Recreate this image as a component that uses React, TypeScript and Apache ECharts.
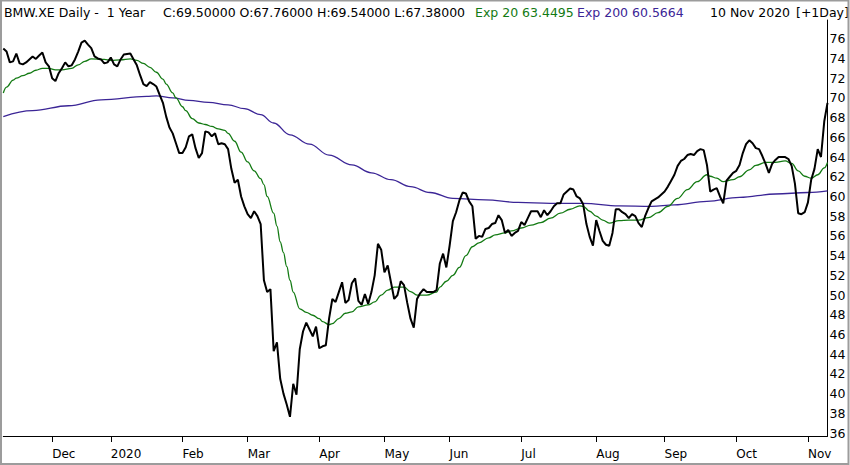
import React, { useEffect, useRef } from "react";
import * as echarts from "echarts";

// ---- Calendar (Xetra trading days) ----
const START_DATE = "2019-11-11";
const END_DATE = "2020-11-10";
const HOLIDAYS = [
  "2019-12-24", "2019-12-25", "2019-12-26", "2019-12-31",
  "2020-01-01", "2020-04-10", "2020-04-13", "2020-05-01",
];
const MONTH_NAMES = ["Jan", "Feb", "Mar", "Apr", "May", "Jun", "Jul", "Aug", "Sep", "Oct", "Nov", "Dec"];

// ---- Close prices, month by month ----
const closeNov2019 = [75.0, 74.7, 73.6, 73.7, 74.5, 73.5, 73.4, 73.6, 73.9, 74.2, 73.95, 74.3, 74.6, 73.6, 73.2];
const closeDec2019 = [72.0, 71.7, 72.5, 73.0, 73.6, 73.2, 73.3, 73.9, 74.7, 75.6, 75.8, 75.4, 75.05, 74.2, 74.0, 73.9, 73.5, 73.6];
const closeJan2020 = [74.1, 73.4, 73.2, 73.9, 74.4, 74.45, 74.5, 73.9, 73.3, 72.3, 71.4, 71.2, 71.6, 71.4, 71.15, 70.3, 69.5, 68.1, 67.0, 66.4, 65.4, 64.4];
const closeFeb2020 = [64.4, 65.0, 66.1, 66.3, 64.9, 63.9, 64.4, 66.6, 66.5, 66.1, 66.4, 65.3, 65.4, 65.3, 64.8, 62.8, 61.4, 61.7, 60.0, 59.0];
const closeMar2020 = [58.2, 57.8, 58.5, 58.0, 57.2, 51.5, 50.3, 50.6, 44.3, 45.2, 41.5, 40.0, 38.9, 37.65, 41.0, 39.9, 44.5, 46.3, 47.2, 46.5, 45.8, 46.8];
const closeApr2020 = [44.6, 44.8, 44.9, 47.6, 49.6, 49.3, 50.3, 51.3, 49.2, 49.5, 51.2, 51.7, 49.4, 49.0, 50.1, 49.1, 50.3, 52.0, 55.2, 54.6];
const closeMay2020 = [52.3, 53.0, 51.3, 49.6, 50.0, 51.4, 51.0, 49.2, 47.6, 46.7, 49.6, 50.2, 50.6, 50.3, 50.3, 50.3, 50.5, 53.2, 54.2, 52.8];
const closeJun2020 = [55.0, 57.5, 58.4, 59.6, 60.4, 60.3, 59.5, 59.0, 55.7, 56.0, 55.9, 56.7, 56.8, 57.2, 57.3, 58.1, 57.6, 56.3, 56.6, 56.0, 56.3, 56.5];
const closeJul2020 = [57.4, 57.1, 57.8, 58.5, 58.5, 58.5, 57.9, 58.6, 58.1, 58.5, 59.0, 59.3, 59.3, 60.2, 60.5, 60.8, 60.7, 60.0, 59.8, 59.2, 57.2, 55.9, 55.0];
const closeAug2020 = [57.6, 56.5, 55.5, 55.1, 55.0, 56.3, 58.7, 58.7, 58.4, 58.2, 57.8, 58.2, 58.0, 57.3, 56.9, 58.0, 58.8, 59.5, 59.7, 59.9, 60.2];
const closeSep2020 = [60.5, 61.0, 61.6, 62.2, 63.1, 63.6, 63.8, 64.2, 64.3, 64.2, 64.6, 64.8, 64.7, 63.2, 60.5, 60.7, 60.85, 60.0, 59.3, 61.6, 62.0, 62.4];
const closeOct2020 = [62.6, 63.2, 64.4, 65.3, 65.7, 65.4, 64.9, 64.8, 64.1, 63.3, 62.4, 63.3, 63.7, 64.0, 64.0, 64.0, 63.8, 63.1, 61.3, 58.3, 58.2, 58.4];
const closeNov2020 = [59.4, 61.7, 62.8, 64.8, 64.0, 67.6, 69.5];

// ---- Exp 20 and Exp 200 as [trading-day index, value] ----
const exp20Points: [number, number][] = [
  [0, 70.5], [1, 71.1], [3, 71.8], [4, 72.0], [6, 72.25], [8, 72.5], [10, 72.8], [12, 73.0], [14, 73.0],
  [16, 72.85], [18, 72.85], [21, 73.0], [23, 73.35], [25, 73.7], [27, 73.95], [31, 73.9], [33, 73.8],
  [36, 73.85], [39, 73.95], [41, 73.8], [43, 73.5], [45, 73.1], [47, 72.6], [49, 71.9], [50, 71.4],
  [52, 70.5], [53, 70.0], [55, 69.1], [56, 68.7], [58, 67.9], [60, 67.45], [62, 67.3], [64, 67.1],
  [66, 66.85], [68, 66.7], [69, 66.4], [71, 65.6], [73, 64.5], [75, 63.5], [77, 62.6], [79, 61.8],
  [80, 61.2], [81, 60.0], [83, 58.3], [84, 57.0], [85, 55.4], [86, 54.3], [87, 52.9], [88, 51.5],
  [89, 50.3], [91, 48.6], [93, 48.25], [95, 47.95], [97, 47.6], [98, 47.3], [100, 47.0], [101, 47.1],
  [103, 47.6], [105, 48.15], [107, 48.3], [109, 48.8], [112, 49.0], [114, 49.3], [116, 50.0],
  [118, 50.5], [120, 50.8], [123, 50.8], [125, 50.35], [127, 50.0], [130, 50.0], [133, 50.3],
  [134, 50.8], [136, 51.4], [138, 52.0], [140, 52.8], [142, 54.0], [144, 54.9], [146, 55.3],
  [149, 55.8], [151, 56.1], [154, 56.3], [156, 56.5], [159, 56.8], [162, 57.1], [165, 57.35],
  [168, 57.8], [171, 58.3], [174, 58.7], [177, 59.05], [178, 59.0], [180, 58.5], [182, 58.0],
  [184, 57.6], [186, 57.3], [189, 57.55], [192, 57.6], [195, 57.6], [198, 57.85], [201, 58.35],
  [204, 59.0], [207, 59.8], [210, 60.7], [213, 61.5], [216, 62.2], [217, 62.05], [219, 61.85],
  [221, 61.5], [224, 61.7], [226, 62.0], [229, 62.7], [231, 63.15], [234, 63.45], [237, 63.45],
  [240, 63.6], [242, 63.35], [244, 62.6], [246, 62.05], [248, 61.85], [250, 62.2], [252, 62.9],
  [253, 63.45],
];
const exp200Points: [number, number][] = [
  [0, 68.1], [9, 68.7], [20, 69.2], [30, 69.8], [44, 70.15], [47, 70.2], [52, 70.0], [57, 69.75],
  [63, 69.55], [69, 69.3], [74, 68.9], [79, 68.3], [83, 67.45], [88, 66.25], [94, 65.3], [100, 64.2],
  [107, 63.2], [113, 62.4], [119, 61.7], [125, 61.0], [131, 60.4], [138, 59.8], [148, 59.65],
  [158, 59.4], [168, 59.3], [178, 59.3], [189, 59.05], [199, 59.0], [206, 59.15], [216, 59.5],
  [226, 59.9], [237, 60.25], [247, 60.4], [253, 60.57],
];

// ---- Axis ticks ----
const yTickValues = [36, 38, 40, 42, 44, 46, 48, 50, 52, 54, 56, 58, 60, 62, 64, 66, 68, 70, 72, 74, 76];

// ---- Header texts ----
const headerTitle = "BMW.XE Daily -  1 Year";
const headerOHLC = "C:69.50000 O:67.76000 H:69.54000 L:67.38000";
const headerExp20 = "Exp 20 63.4495";
const headerExp200 = "Exp 200 60.5664";
const headerDate = "10 Nov 2020";
const headerShift = "[+1Day]";

function tradingDays(start: string, end: string, holidays: string[]): string[] {
  const out: string[] = [];
  const d = new Date(start + "T00:00:00Z");
  const e = new Date(end + "T00:00:00Z");
  while (d.getTime() <= e.getTime()) {
    const wd = d.getUTCDay();
    const s = d.toISOString().slice(0, 10);
    if (wd !== 0 && wd !== 6 && holidays.indexOf(s) < 0) out.push(s);
    d.setUTCDate(d.getUTCDate() + 1);
  }
  return out;
}

const FONT = "DejaVu Sans";
const GREEN = "#137a13";
const PURPLE = "#3b2596";

export default function App() {
  const ref = useRef<HTMLDivElement>(null);

  useEffect(() => {
    document.body.style.margin = "0";
    if (!ref.current) return;
    const chart = echarts.init(ref.current, null, { renderer: "svg" });

    const dates = tradingDays(START_DATE, END_DATE, HOLIDAYS);
    const close = [
      ...closeNov2019, ...closeDec2019, ...closeJan2020, ...closeFeb2020, ...closeMar2020,
      ...closeApr2020, ...closeMay2020, ...closeJun2020, ...closeJul2020, ...closeAug2020,
      ...closeSep2020, ...closeOct2020, ...closeNov2020,
    ];
    const monthStart = new Set<number>();
    for (let i = 1; i < dates.length; i++) {
      if (dates[i].slice(5, 7) !== dates[i - 1].slice(5, 7)) monthStart.add(i);
    }
    const monthLabel = (v: string) => {
      const m = parseInt(v.slice(5, 7), 10);
      return m === 1 ? v.slice(0, 4) : MONTH_NAMES[m - 1];
    };

    const headerY = 12;
    const txt = (x: number, text: string, fill: string) => ({
      type: "text",
      x,
      y: headerY,
      style: { text, fill, fontSize: 12.5, fontFamily: FONT, verticalAlign: "middle" },
      z: 10,
    });

    chart.setOption({
      animation: false,
      backgroundColor: "#ffffff",
      grid: { left: 3.3, right: 22.5, top: 20, bottom: 29 },
      xAxis: {
        type: "category",
        data: dates,
        boundaryGap: false,
        axisLine: { show: true, lineStyle: { color: "#000", width: 1 } },
        axisTick: {
          show: true,
          interval: (idx: number) => monthStart.has(idx),
          length: 6,
          lineStyle: { color: "#000", width: 1 },
        },
        axisLabel: {
          interval: (idx: number) => monthStart.has(idx),
          formatter: (v: string) => monthLabel(v),
          align: "left",
          margin: 12,
          color: "#000",
          fontSize: 12,
          fontFamily: FONT,
        },
        splitLine: { show: false },
      },
      yAxis: {
        type: "value",
        position: "right",
        min: 35.7,
        max: 77.9,
        axisLine: { show: true, lineStyle: { color: "#000", width: 1 } },
        axisTick: { show: false },
        splitLine: { show: false },
        axisLabel: {
          customValues: yTickValues,
          margin: 2,
          color: "#000",
          fontSize: 12.5,
          fontFamily: FONT,
        },
      },
      series: [
        {
          name: "Exp 200",
          type: "line",
          data: exp200Points,
          symbol: "none",
          smooth: 0.4,
          smoothMonotone: "x",
          lineStyle: { color: PURPLE, width: 1.3 },
          z: 2,
        },
        {
          name: "Exp 20",
          type: "line",
          data: exp20Points,
          symbol: "none",
          smooth: 0.4,
          smoothMonotone: "x",
          lineStyle: { color: GREEN, width: 1.3 },
          z: 3,
        },
        {
          name: "BMW.XE",
          type: "line",
          data: close,
          symbol: "none",
          lineStyle: { color: "#000", width: 2 },
          z: 4,
        },
      ],
      graphic: [
        {
          type: "rect",
          shape: { x: 1, y: 0.5, width: 847.5, height: 463.5 },
          style: { fill: "none", stroke: "#9c9c9c", lineWidth: 2 },
          z: 20,
        },
        txt(4, headerTitle, "#000"),
        txt(163, headerOHLC, "#000"),
        txt(475, headerExp20, GREEN),
        txt(577, headerExp200, PURPLE),
        txt(710, headerDate, "#000"),
        txt(796, headerShift, "#000"),
      ],
    });

    return () => chart.dispose();
  }, []);

  return (
    <div
      ref={ref}
      style={{ width: 850, height: 465, position: "absolute", left: 0, top: 0 }}
    />
  );
}
